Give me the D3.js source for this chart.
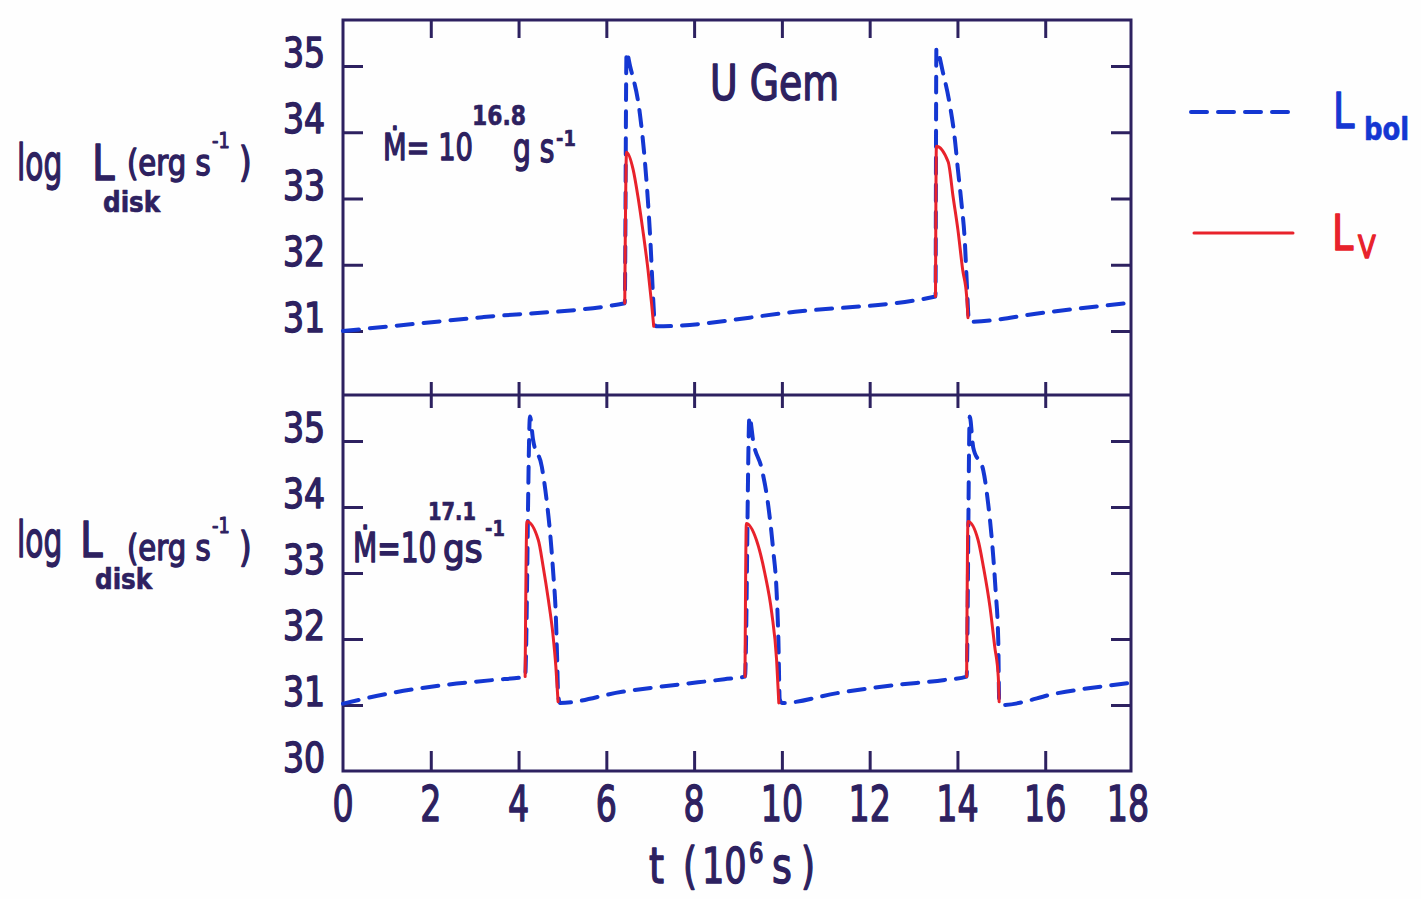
<!DOCTYPE html>
<html>
<head>
<meta charset="utf-8">
<script src="https://cdn.jsdelivr.net/npm/d3@7"></script>
<style>
  body { margin: 0; background: #ffffff; }
  svg { display: block; }
  text { font-family: "DejaVu Sans Condensed", "DejaVu Sans", sans-serif; stroke-linejoin: round; }
</style>
</head>
<body>
<svg id="chart" width="1421" height="899"></svg>
<script>
// ---- axis ticks ----
const xTickLabels = [0, 2, 4, 6, 8, 10, 12, 14, 16, 18];
const xInnerTicks = [2, 4, 6, 8, 10, 12, 14, 16];
const yTicksTop = [31, 32, 33, 34, 35];
const yTicksBottom = [30, 31, 32, 33, 34, 35];

// ---- upper panel: Mdot = 10^16.8 g/s  (t in 10^6 s, log L in erg/s) ----
const topBol = [
  [0.00, 31.00], [3.20, 31.21], [6.42, 31.42],
  [6.46, 35.21], [6.54, 35.00], [6.77, 34.25], [6.88, 33.55], [6.95, 32.94],
  [7.01, 32.28], [7.06, 31.58], [7.11, 31.09], [7.14, 31.07],
  [10.30, 31.29], [13.50, 31.52],
  [13.52, 35.26], [13.67, 34.90], [13.83, 34.40], [13.94, 33.90], [14.01, 33.44],
  [14.09, 32.94], [14.17, 32.33], [14.21, 31.77], [14.26, 31.17], [14.28, 31.14],
  [16.00, 31.28], [17.86, 31.42]
];
const topV1 = [
  [6.42, 31.42], [6.46, 33.70], [6.61, 33.44], [6.72, 33.03], [6.83, 32.53],
  [6.95, 31.92], [7.03, 31.42], [7.08, 31.07]
];
const topV2 = [
  [13.50, 31.52], [13.52, 33.79], [13.79, 33.55], [13.90, 33.03], [14.01, 32.53],
  [14.12, 31.92], [14.21, 31.52], [14.24, 31.20]
];

// ---- lower panel: Mdot = 10^17.1 g/s ----
const botBol = [
  [0.00, 31.02], [1.09, 31.18], [2.27, 31.30], [3.44, 31.38], [4.15, 31.43],
  [4.26, 35.37], [4.33, 35.02], [4.53, 34.61], [4.64, 34.10], [4.72, 33.60],
  [4.79, 33.00], [4.85, 32.34], [4.88, 31.68], [4.90, 31.18], [4.94, 31.03],
  [6.36, 31.20], [7.52, 31.30], [8.69, 31.39], [9.16, 31.43],
  [9.26, 35.37], [9.35, 34.98], [9.54, 34.58], [9.69, 34.02], [9.80, 33.36],
  [9.88, 32.71], [9.92, 32.00], [9.95, 31.09], [10.00, 31.03],
  [11.26, 31.18], [12.55, 31.30], [13.71, 31.38], [14.21, 31.43],
  [14.28, 35.37], [14.36, 34.90], [14.59, 34.55], [14.70, 34.05], [14.80, 33.38],
  [14.87, 32.73], [14.93, 31.98], [14.95, 31.08], [15.01, 31.00],
  [16.29, 31.18], [17.88, 31.33]
];
const botV1 = [
  [4.15, 31.43], [4.19, 33.78], [4.45, 33.50], [4.56, 33.10], [4.68, 32.59],
  [4.78, 32.09], [4.85, 31.58], [4.90, 31.05]
];
const botV2 = [
  [9.16, 31.43], [9.19, 33.75], [9.42, 33.50], [9.61, 33.00], [9.77, 32.39],
  [9.88, 31.68], [9.93, 31.03]
];
const botV3 = [
  [14.21, 31.43], [14.24, 33.78], [14.47, 33.50], [14.59, 33.10], [14.74, 32.49],
  [14.85, 31.88], [14.93, 31.43], [14.95, 31.05]
];

// ---- styling ----
const INK = "#2d2160";
const BLUE = "#1437d2";
const RED = "#e8222b";

const svg = d3.select("#chart");
svg.append("rect").attr("width", 1421).attr("height", 899).attr("fill", "#fefefe");

const LEFT = 343, RIGHT = 1131, TOP = 20, MID = 395, BOTTOM = 771;

const x = d3.scaleLinear().domain([0, 18]).range([LEFT, 1133]);
const yTop = d3.scaleLinear().domain([31, 35]).range([331, 66]);
const yBot = d3.scaleLinear().domain([30, 35]).range([BOTTOM, 441]);

// text helper: narrow, heavy hand-lettered look via horizontal scaling and a stroke
function put(str, px, py, size, opt = {}) {
  return svg.append("text")
    .attr("transform", `translate(${px},${py}) scale(${opt.sx || 1},1)`)
    .attr("font-size", size)
    .attr("font-weight", opt.bold ? "bold" : "normal")
    .attr("text-anchor", opt.anchor || "start")
    .attr("fill", opt.fill || INK)
    .attr("stroke", opt.fill || INK)
    .attr("stroke-width", opt.sw == null ? 1.4 : opt.sw)
    .text(str);
}

// ---- frame ----
svg.append("path")
  .attr("d", `M${LEFT},${TOP}H${RIGHT}V${BOTTOM}H${LEFT}Z M${LEFT},${MID}H${RIGHT}`)
  .attr("fill", "none").attr("stroke", INK).attr("stroke-width", 3);

function styleAxis(g) {
  g.select(".domain").remove();
  g.selectAll(".tick line").attr("stroke", INK).attr("stroke-width", 3);
  g.selectAll(".tick text").remove();
}

// left / right ticks (pointing inward)
svg.append("g").attr("transform", `translate(${LEFT},0)`)
  .call(d3.axisLeft(yTop).tickValues(yTicksTop).tickSize(-20)).call(styleAxis);
svg.append("g").attr("transform", `translate(${RIGHT},0)`)
  .call(d3.axisRight(yTop).tickValues(yTicksTop).tickSize(-20)).call(styleAxis);
svg.append("g").attr("transform", `translate(${LEFT},0)`)
  .call(d3.axisLeft(yBot).tickValues(yTicksBottom.filter(d => d > 30)).tickSize(-20)).call(styleAxis);
svg.append("g").attr("transform", `translate(${RIGHT},0)`)
  .call(d3.axisRight(yBot).tickValues(yTicksBottom.filter(d => d > 30)).tickSize(-20)).call(styleAxis);

// top, middle (crossing) and bottom time ticks
svg.append("g").attr("transform", `translate(0,${TOP})`)
  .call(d3.axisTop(x).tickValues(xInnerTicks).tickSize(-18)).call(styleAxis);
svg.append("g").attr("transform", `translate(0,${MID})`)
  .call(d3.axisTop(x).tickValues(xInnerTicks).tickSize(13)).call(styleAxis);
svg.append("g").attr("transform", `translate(0,${MID})`)
  .call(d3.axisBottom(x).tickValues(xInnerTicks).tickSize(13)).call(styleAxis);
svg.append("g").attr("transform", `translate(0,${BOTTOM})`)
  .call(d3.axisBottom(x).tickValues(xInnerTicks).tickSize(-20)).call(styleAxis);

// ---- tick labels ----
yTicksTop.forEach(d => put(String(d), 325, yTop(d) + 1, 40, { anchor: "end", sx: 0.92 }));
yTicksBottom.forEach(d => put(String(d), 325, yBot(d) + 1, 40, { anchor: "end", sx: 0.92 }));
xTickLabels.forEach(d => put(String(d), x(d) - (d === 18 ? 5 : 0), 821, 50, { anchor: "middle", sx: 0.74 }));

// ---- axis titles ----
put("t", 649, 883, 50, { sx: 0.85 });
put("(", 683, 883, 50, { sx: 0.8 });
put("10", 702, 883, 50, { sx: 0.78 });
put("6", 749, 863, 28, { sx: 0.9 });
put("s", 772, 883, 50, { sx: 0.85 });
put(")", 801, 883, 50, { sx: 0.8 });

function yTitle(base, lx, dx, ey) {
  put("log", 17, base, 50, { sx: 0.66 });
  put("L", lx, base, 50, { sx: 0.9 });
  put("(erg s", 127, ey, 36, { sx: 0.9 });
  put("-1", 212, ey - 27, 22, { sx: 0.9, sw: 1 });
  put(")", 239, ey + 1, 40, { sx: 0.9 });
  put("disk", dx, base + 32, 28, { bold: true, sx: 0.98, sw: 0.6 });
}
yTitle(180, 92, 103, 175);
yTitle(557, 80, 95, 560);

// ---- annotations ----
put("U  Gem", 710, 100, 50, { sx: 0.84 });

put("Ṁ= 10", 383, 160, 38, { sx: 0.8 });
put("16.8", 472, 125, 27, { bold: true, sx: 0.9, sw: 0.6 });
put("g s", 513, 162, 40, { sx: 0.78 });
put("-1", 556, 146, 22, { bold: true, sx: 0.9, sw: 0.6 });

put("Ṁ=10", 353, 562, 40, { sx: 0.78 });
put("17.1", 428, 520, 24, { bold: true, sx: 0.9, sw: 0.6 });
put("gs", 443, 562, 38, { sx: 1.0 });
put("-1", 485, 536, 22, { bold: true, sx: 0.9, sw: 0.6 });

// ---- curves ----
function draw(data, yScale, color, dashed) {
  const line = d3.line()
    .x(d => x(d[0]))
    .y(d => yScale(d[1]))
    .curve(d3.curveMonotoneX);
  svg.append("path")
    .datum(data)
    .attr("d", line)
    .attr("fill", "none")
    .attr("stroke", color)
    .attr("stroke-width", dashed ? 4 : 3)
    .attr("stroke-linecap", "round")
    .attr("stroke-linejoin", "round")
    .attr("stroke-dasharray", dashed ? "16,11" : null);
}

draw(topBol, yTop, BLUE, true);
draw(botBol, yBot, BLUE, true);
[topV1, topV2].forEach(s => draw(s, yTop, RED, false));
[botV1, botV2, botV3].forEach(s => draw(s, yBot, RED, false));

// ---- legend ----
svg.append("line").attr("x1", 1191).attr("x2", 1292).attr("y1", 112).attr("y2", 112)
  .attr("stroke", BLUE).attr("stroke-width", 4).attr("stroke-linecap", "round")
  .attr("stroke-dasharray", "16,11");
put("L", 1333, 128, 50, { sx: 0.85, fill: BLUE });
put("bol", 1364, 140, 32, { bold: true, sx: 0.9, fill: BLUE, sw: 0.6 });

svg.append("line").attr("x1", 1194).attr("x2", 1293).attr("y1", 233).attr("y2", 233)
  .attr("stroke", RED).attr("stroke-width", 3).attr("stroke-linecap", "round");
put("L", 1332, 250, 50, { sx: 0.85, fill: RED });
put("V", 1358, 258, 32, { sx: 0.9, fill: RED });
</script>
</body>
</html>
